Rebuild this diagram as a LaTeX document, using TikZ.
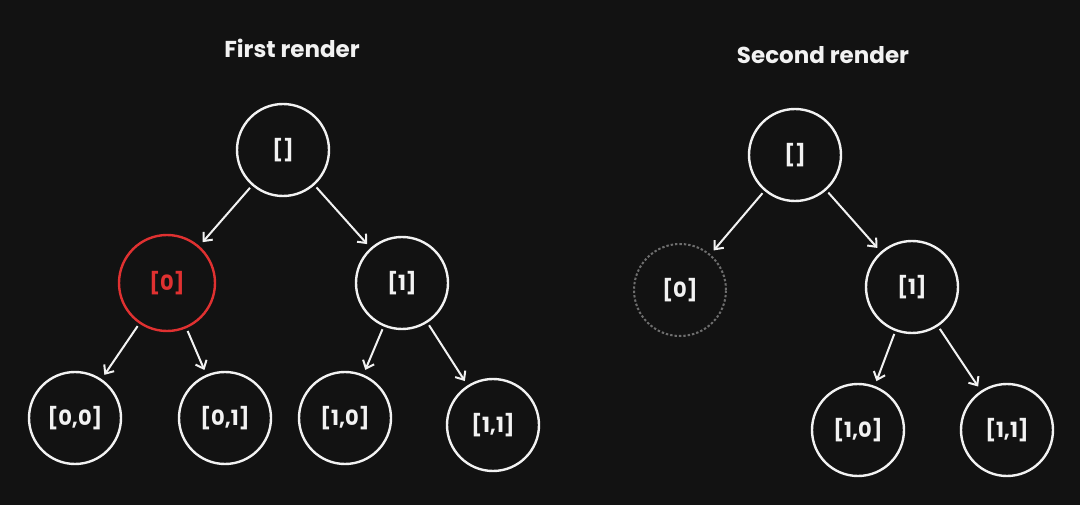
\documentclass[tikz,border=0pt]{standalone}
\usepackage{fontspec}
\setmainfont{Poppins}
\usetikzlibrary{arrows.meta}
\definecolor{bg}{HTML}{121212}
\definecolor{fg}{HTML}{F2F2F2}
\definecolor{rd}{HTML}{E03131}
\definecolor{dg}{HTML}{6E6E6E}
\begin{document}
\begin{tikzpicture}[x=1pt,y=-1pt,
  nd/.style={circle,draw=fg,line width=2.4pt,minimum size=92pt,text=fg,font=\bfseries\fontsize{21}{24}\selectfont,inner sep=0},
  rednd/.style={nd,draw=rd,text=rd},
  ghost/.style={nd,draw=dg,dotted,line width=2pt},
  ar/.style={draw=fg,line width=2pt,-{Straight Barb[length=7pt,width=12pt]},shorten >=5pt,shorten <=3pt},
  ttl/.style={text=fg,font=\bfseries\fontsize{23}{26}\selectfont}]
\fill[bg] (0,0) rectangle (1080,505);
\useasboundingbox (0,0) rectangle (1080,505);
\node[ttl] (t1) at (292,48) {First render};
\node[ttl] (t2) at (823,55) {Second render};
\node[nd] (r1) at (283,150) {[]};
\node[rednd,minimum size=96pt] (a0) at (167,283) {[0]};
\node[nd] (a1) at (402,283) {[1]};
\node[nd] (a00) at (75,418) {[0,0]};
\node[nd] (a01) at (225,418) {[0,1]};
\node[nd] (a10) at (345,418) {[1,0]};
\node[nd] (a11) at (493,425) {[1,1]};
\node[nd] (r2) at (795,155) {[]};
\node[ghost] (b0) at (680,290) {[0]};
\node[nd] (b1) at (912,287) {[1]};
\node[nd] (b10) at (858,430) {[1,0]};
\node[nd] (b11) at (1007,430) {[1,1]};
\draw[ar] (r1) -- (a0);
\draw[ar] (r1) -- (a1);
\draw[ar] (a0) -- (a00);
\draw[ar] (a0) -- (a01);
\draw[ar] (a1) -- (a10);
\draw[ar] (a1) -- (a11);
\draw[ar] (r2) -- (b0);
\draw[ar] (r2) -- (b1);
\draw[ar] (b1) -- (b10);
\draw[ar] (b1) -- (b11);
\end{tikzpicture}
\end{document}
